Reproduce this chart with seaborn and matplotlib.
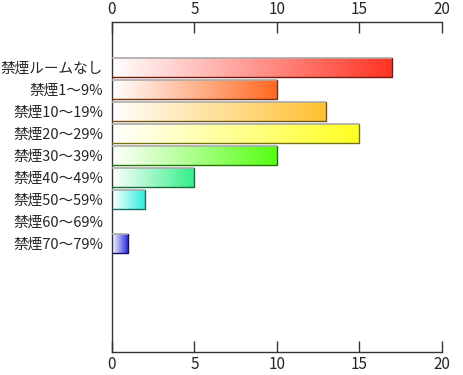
"""
    Horizontal gradient bar chart (smoking room ratio)
"""

import numpy as np
import pandas as pd
import seaborn as sns
import matplotlib.pyplot as plt
from matplotlib.colors import LinearSegmentedColormap, to_rgb

# Data
categories = ["禁煙ルームなし", "禁煙1～9%", "禁煙10～19%", "禁煙20～29%",
              "禁煙30～39%", "禁煙40～49%", "禁煙50～59%", "禁煙60～69%",
              "禁煙70～79%"]
counts = [17, 10, 13, 15, 10, 5, 2, 0, 1]
end_colors = ["#ff3322", "#ff6a22", "#ffc030", "#ffff22", "#55ff11",
              "#33ee88", "#33eedd", "#dddddd", "#2222dd"]
x_ticks = [0, 5, 10, 15, 20]

sns.set_style("white")
plt.rcParams['font.family'] = ['Noto Sans CJK JP', 'DejaVu Sans']

df = pd.DataFrame({"category": categories, "count": counts})

fig = plt.figure(figsize=(4.64, 3.75), dpi=100)
ax = fig.add_axes([112 / 464, 1 - 352 / 375, 330 / 464, 330 / 375])

sns.barplot(data=df, x="count", y="category", orient="h", ax=ax,
            width=0.86, color="white")

ax.set_xlim(0, 20)
ax.set_ylim(12.95, -2.05)

# Gradient fill, clipped to each bar
grad = np.linspace(0, 1, 256).reshape(1, -1)
for patch, col in zip(ax.patches, end_colors):
    w = patch.get_width()
    if w <= 0:
        patch.set_visible(False)
        continue
    x0, y0 = patch.get_x(), patch.get_y()
    h = patch.get_height()
    cmap = LinearSegmentedColormap.from_list("g", ["white", col])
    im = ax.imshow(grad, cmap=cmap, aspect="auto",
                   extent=[x0, x0 + w, y0 + h, y0], zorder=2)
    im.set_clip_path(patch)
    patch.set_facecolor("none")
    patch.set_edgecolor("none")
    dark = tuple(c * 0.45 for c in to_rgb(col))
    # dark right and bottom edges, light gray top edge
    ax.plot([x0, x0 + w, x0 + w], [y0 + h, y0 + h, y0], color=dark,
            lw=1.0, zorder=4)
    ax.plot([x0, x0 + w], [y0, y0], color="#aaaaaa", lw=1.2, zorder=4,
            solid_capstyle="butt")

ax.set_xlim(0, 20)
ax.set_ylim(12.95, -2.05)

ax.set_xticks(x_ticks)
ax.set_xticklabels([str(t) for t in x_ticks])
ax.tick_params(axis="x", which="both", top=True, bottom=True,
               labeltop=True, labelbottom=True, direction="in",
               length=8, width=1, color="#333333", labelsize=11, pad=3)
ax.tick_params(axis="y", left=False, labelsize=10.5, pad=3)
ax.set_xlabel("")
ax.set_ylabel("")

for side in ["left", "top", "bottom"]:
    ax.spines[side].set_visible(True)
    ax.spines[side].set_color("#333333")
    ax.spines[side].set_linewidth(1.0)
ax.spines["right"].set_visible(False)

plt.savefig("out.png", dpi=100)
